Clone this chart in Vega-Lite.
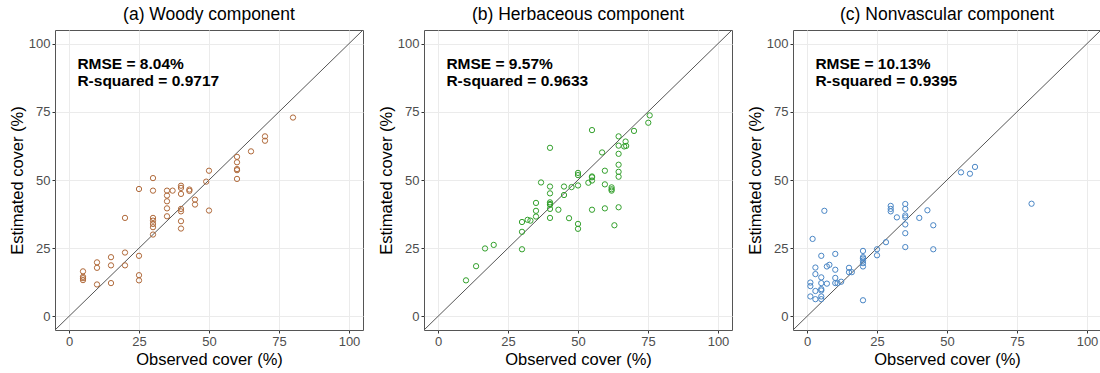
{
  "$schema": "https://vega.github.io/schema/vega-lite/v6.json",
  "padding": {"left": 8, "top": 5, "right": 2, "bottom": 0},
  "spacing": 13,
  "config": {
    "view": {"stroke": "#555555", "strokeWidth": 1},
    "font": "Liberation Sans",
    "title": {"fontSize": 17.5, "font": "Liberation Sans", "fontWeight": "normal", "anchor": "middle", "offset": 6, "color": "#000000"},
    "axis": {"domain": false, "grid": true, "gridColor": "#ebebeb", "tickSize": 3, "tickWidth": 1, "labelFontSize": 13, "labelColor": "#4d4d4d", "labelFont": "Liberation Sans", "titleFont": "Liberation Sans", "titleFontSize": 16.5, "titleFontWeight": "normal", "titleColor": "#000000", "labelPadding": 2, "titlePadding": 3, "gridWidth": 1, "labelOverlap": false, "labelFlush": false}
  },
  "datasets": {
    "woody": [
      {"x": 5, "y": 16.5}, {"x": 5, "y": 14.5}, {"x": 5, "y": 14}, {"x": 5, "y": 13.3},
      {"x": 10, "y": 19.8}, {"x": 10, "y": 17.8}, {"x": 10, "y": 11.7},
      {"x": 15, "y": 21.7}, {"x": 15, "y": 18.7}, {"x": 15, "y": 12.2},
      {"x": 20, "y": 36.1}, {"x": 20, "y": 23.4}, {"x": 20, "y": 18.7},
      {"x": 25, "y": 46.7}, {"x": 25, "y": 22.2}, {"x": 25, "y": 15.1}, {"x": 25, "y": 13.2},
      {"x": 30, "y": 50.7}, {"x": 30, "y": 46.1}, {"x": 30, "y": 36.1}, {"x": 30, "y": 35.1}, {"x": 30, "y": 33.9}, {"x": 30, "y": 32.7}, {"x": 30, "y": 30},
      {"x": 35, "y": 46.1}, {"x": 35, "y": 44.3}, {"x": 35, "y": 42.2}, {"x": 35, "y": 39.6}, {"x": 35, "y": 36.7}, {"x": 37, "y": 46.1},
      {"x": 40, "y": 47.9}, {"x": 40, "y": 47.1}, {"x": 40, "y": 44.9}, {"x": 40, "y": 39.4}, {"x": 40, "y": 38.5}, {"x": 40, "y": 34.9}, {"x": 40, "y": 32.2},
      {"x": 43, "y": 46.5}, {"x": 43, "y": 46},
      {"x": 45, "y": 42.8}, {"x": 45, "y": 41},
      {"x": 49, "y": 49.4}, {"x": 50, "y": 53.4}, {"x": 50, "y": 38.8},
      {"x": 60, "y": 58.5}, {"x": 60, "y": 56.5}, {"x": 60, "y": 54}, {"x": 60, "y": 53.6}, {"x": 60, "y": 50.4},
      {"x": 65, "y": 60.5},
      {"x": 70, "y": 66}, {"x": 70, "y": 64.4},
      {"x": 80, "y": 72.9}
    ],
    "herb": [
      {"x": 10, "y": 13.2}, {"x": 13.6, "y": 18.4}, {"x": 16.8, "y": 24.9}, {"x": 19.9, "y": 26.2},
      {"x": 30, "y": 24.6}, {"x": 30, "y": 31}, {"x": 30, "y": 34.6},
      {"x": 32, "y": 35.4}, {"x": 33, "y": 35.1},
      {"x": 35, "y": 41.6}, {"x": 35, "y": 38.7}, {"x": 35, "y": 36.6},
      {"x": 36.8, "y": 49.1},
      {"x": 40, "y": 61.8}, {"x": 40, "y": 47.6}, {"x": 40, "y": 45.1}, {"x": 40, "y": 41.8}, {"x": 40, "y": 41.2}, {"x": 40, "y": 40.9}, {"x": 40, "y": 39.4}, {"x": 40, "y": 36.1},
      {"x": 43, "y": 39.1},
      {"x": 45, "y": 47.6}, {"x": 45, "y": 44.5},
      {"x": 46.8, "y": 36},
      {"x": 47.7, "y": 47.4},
      {"x": 50, "y": 52.6}, {"x": 50, "y": 51.8}, {"x": 50, "y": 48}, {"x": 50, "y": 33.9}, {"x": 50, "y": 32.1},
      {"x": 53.7, "y": 49},
      {"x": 55, "y": 51.3}, {"x": 55, "y": 51}, {"x": 55, "y": 49.8}, {"x": 55, "y": 68.3}, {"x": 55, "y": 39.1},
      {"x": 58.6, "y": 60.1},
      {"x": 59.6, "y": 53.4}, {"x": 59.6, "y": 48.4}, {"x": 59.6, "y": 39.6},
      {"x": 62, "y": 47.3}, {"x": 62, "y": 46.6}, {"x": 62, "y": 46.1},
      {"x": 63, "y": 33.4},
      {"x": 64.5, "y": 66}, {"x": 64.5, "y": 62.6}, {"x": 64.5, "y": 59.6}, {"x": 64.5, "y": 55.6}, {"x": 64.5, "y": 53}, {"x": 64.5, "y": 51.2}, {"x": 64.5, "y": 40},
      {"x": 67, "y": 64.1}, {"x": 66.5, "y": 62.3}, {"x": 67.2, "y": 62.5},
      {"x": 70, "y": 68},
      {"x": 75.1, "y": 71}, {"x": 75.6, "y": 73.7}
    ],
    "nonvasc": [
      {"x": 1.2, "y": 12.4}, {"x": 1.2, "y": 11.1}, {"x": 1.2, "y": 7.3},
      {"x": 2, "y": 28.4},
      {"x": 3, "y": 17.9}, {"x": 3, "y": 15.5}, {"x": 3, "y": 9.3}, {"x": 3, "y": 6.3},
      {"x": 5.1, "y": 22.2}, {"x": 5.1, "y": 14.3}, {"x": 5.1, "y": 12.2}, {"x": 5.1, "y": 10}, {"x": 5.1, "y": 9.5}, {"x": 5.1, "y": 7.3}, {"x": 5.1, "y": 6.3},
      {"x": 6.2, "y": 38.7},
      {"x": 7.1, "y": 18.3}, {"x": 7.1, "y": 12}, {"x": 8, "y": 18.9},
      {"x": 10.1, "y": 22.9}, {"x": 10.1, "y": 17.1}, {"x": 10.1, "y": 14.1}, {"x": 10.1, "y": 12.2}, {"x": 10.9, "y": 12.2}, {"x": 12.2, "y": 12.7},
      {"x": 15, "y": 17.8}, {"x": 15, "y": 16.2}, {"x": 16, "y": 16.2},
      {"x": 20, "y": 24}, {"x": 20, "y": 21.7}, {"x": 20, "y": 21.2}, {"x": 20, "y": 20.5}, {"x": 20, "y": 19.5}, {"x": 20, "y": 18.3}, {"x": 20, "y": 5.9},
      {"x": 25, "y": 24.6}, {"x": 25, "y": 22.4},
      {"x": 28.2, "y": 27.2},
      {"x": 29.9, "y": 40.5}, {"x": 29.9, "y": 39.4}, {"x": 29.9, "y": 38.5},
      {"x": 32.1, "y": 36.3},
      {"x": 35.1, "y": 41.2}, {"x": 35.1, "y": 39.4}, {"x": 35.1, "y": 37}, {"x": 35.1, "y": 36.3}, {"x": 35.1, "y": 33.7}, {"x": 35.1, "y": 30.5}, {"x": 35.1, "y": 25.4},
      {"x": 40.1, "y": 36.1},
      {"x": 43, "y": 38.9},
      {"x": 45.1, "y": 33.4}, {"x": 45.1, "y": 24.6},
      {"x": 55, "y": 52.8}, {"x": 58.2, "y": 52.3}, {"x": 60, "y": 54.8},
      {"x": 80.2, "y": 41.3}
    ]
  },
  "hconcat": [
    {
      "width": 308, "height": 300,
      "title": "(a) Woody component",
      "layer": [
        {
          "data": {"values": [{}]},
          "mark": {"type": "rule", "color": "#555555", "strokeWidth": 1},
          "encoding": {"x": {"datum": -5, "type": "quantitative"}, "y": {"datum": -5, "type": "quantitative"}, "x2": {"datum": 105}, "y2": {"datum": 105}}
        },
        {
          "data": {"name": "woody"},
          "mark": {"type": "point", "shape": "circle", "filled": false, "color": "#B06A3B", "size": 28, "strokeWidth": 1, "opacity": 1},
          "encoding": {
            "x": {"field": "x", "type": "quantitative", "title": "Observed cover (%)", "scale": {"domain": [-5, 105], "nice": false, "zero": false},
              "axis": {"values": [0, 12.5, 25, 37.5, 50, 62.5, 75, 87.5, 100], "labelExpr": "datum.value % 25 === 0 ? datum.label : ''", "tickColor": {"condition": {"test": "datum.value % 25 !== 0", "value": "transparent"}, "value": "#333333"}}},
            "y": {"field": "y", "type": "quantitative", "title": "Estimated cover (%)", "scale": {"domain": [-5, 105], "nice": false, "zero": false},
              "axis": {"values": [0, 12.5, 25, 37.5, 50, 62.5, 75, 87.5, 100], "labelExpr": "datum.value % 25 === 0 ? datum.label : ''", "tickColor": {"condition": {"test": "datum.value % 25 !== 0", "value": "transparent"}, "value": "#333333"}}}
          }
        },
        {
          "data": {"values": [{}]},
          "mark": {"type": "text", "align": "left", "baseline": "middle", "fontSize": 15.5, "fontWeight": "bold", "color": "#000000", "lineHeight": 17, "font": "Liberation Sans"},
          "encoding": {"x": {"datum": 3, "type": "quantitative"}, "y": {"datum": 92.7, "type": "quantitative"}, "text": {"value": ["RMSE = 8.04%", "R-squared = 0.9717"]}}
        }
      ]
    },
    {
      "width": 308, "height": 300,
      "title": "(b) Herbaceous component",
      "layer": [
        {
          "data": {"values": [{}]},
          "mark": {"type": "rule", "color": "#555555", "strokeWidth": 1},
          "encoding": {"x": {"datum": -5, "type": "quantitative"}, "y": {"datum": -5, "type": "quantitative"}, "x2": {"datum": 105}, "y2": {"datum": 105}}
        },
        {
          "data": {"name": "herb"},
          "mark": {"type": "point", "shape": "circle", "filled": false, "color": "#33A02C", "size": 28, "strokeWidth": 1, "opacity": 1},
          "encoding": {
            "x": {"field": "x", "type": "quantitative", "title": "Observed cover (%)", "scale": {"domain": [-5, 105], "nice": false, "zero": false},
              "axis": {"values": [0, 12.5, 25, 37.5, 50, 62.5, 75, 87.5, 100], "labelExpr": "datum.value % 25 === 0 ? datum.label : ''", "tickColor": {"condition": {"test": "datum.value % 25 !== 0", "value": "transparent"}, "value": "#333333"}}},
            "y": {"field": "y", "type": "quantitative", "title": "Estimated cover (%)", "scale": {"domain": [-5, 105], "nice": false, "zero": false},
              "axis": {"values": [0, 12.5, 25, 37.5, 50, 62.5, 75, 87.5, 100], "labelExpr": "datum.value % 25 === 0 ? datum.label : ''", "tickColor": {"condition": {"test": "datum.value % 25 !== 0", "value": "transparent"}, "value": "#333333"}}}
          }
        },
        {
          "data": {"values": [{}]},
          "mark": {"type": "text", "align": "left", "baseline": "middle", "fontSize": 15.5, "fontWeight": "bold", "color": "#000000", "lineHeight": 17, "font": "Liberation Sans"},
          "encoding": {"x": {"datum": 3, "type": "quantitative"}, "y": {"datum": 92.7, "type": "quantitative"}, "text": {"value": ["RMSE = 9.57%", "R-squared = 0.9633"]}}
        }
      ]
    },
    {
      "width": 308, "height": 300,
      "title": "(c) Nonvascular component",
      "layer": [
        {
          "data": {"values": [{}]},
          "mark": {"type": "rule", "color": "#555555", "strokeWidth": 1},
          "encoding": {"x": {"datum": -5, "type": "quantitative"}, "y": {"datum": -5, "type": "quantitative"}, "x2": {"datum": 105}, "y2": {"datum": 105}}
        },
        {
          "data": {"name": "nonvasc"},
          "mark": {"type": "point", "shape": "circle", "filled": false, "color": "#4A86C5", "size": 28, "strokeWidth": 1, "opacity": 1},
          "encoding": {
            "x": {"field": "x", "type": "quantitative", "title": "Observed cover (%)", "scale": {"domain": [-5, 105], "nice": false, "zero": false},
              "axis": {"values": [0, 12.5, 25, 37.5, 50, 62.5, 75, 87.5, 100], "labelExpr": "datum.value % 25 === 0 ? datum.label : ''", "tickColor": {"condition": {"test": "datum.value % 25 !== 0", "value": "transparent"}, "value": "#333333"}}},
            "y": {"field": "y", "type": "quantitative", "title": "Estimated cover (%)", "scale": {"domain": [-5, 105], "nice": false, "zero": false},
              "axis": {"values": [0, 12.5, 25, 37.5, 50, 62.5, 75, 87.5, 100], "labelExpr": "datum.value % 25 === 0 ? datum.label : ''", "tickColor": {"condition": {"test": "datum.value % 25 !== 0", "value": "transparent"}, "value": "#333333"}}}
          }
        },
        {
          "data": {"values": [{}]},
          "mark": {"type": "text", "align": "left", "baseline": "middle", "fontSize": 15.5, "fontWeight": "bold", "color": "#000000", "lineHeight": 17, "font": "Liberation Sans"},
          "encoding": {"x": {"datum": 3, "type": "quantitative"}, "y": {"datum": 92.7, "type": "quantitative"}, "text": {"value": ["RMSE = 10.13%", "R-squared = 0.9395"]}}
        }
      ]
    }
  ]
}
